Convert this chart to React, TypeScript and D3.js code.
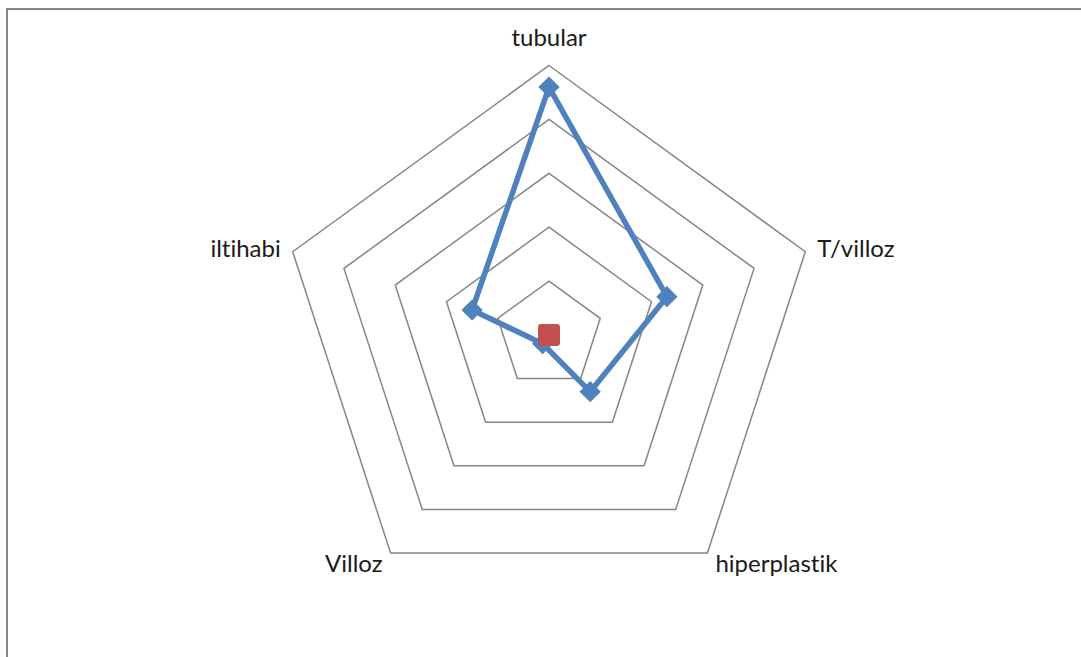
import React from "react";
import * as d3 from "d3";

const categories = ["tubular", "T/villoz", "hiperplastik", "Villoz", "iltihabi"];
const seriesBlue = [46, 23, 13, 2, 15];
const seriesRed = [0, 0, 0, 0, 0];
const gridTicks = [10, 20, 30, 40, 50];

const W = 1081;
const H = 657;
const cx = 549;
const cy = 335;
const R = 269.5;

export default function App() {
  const r = d3.scaleLinear().domain([0, 50]).range([0, R]);
  const n = categories.length;
  const ang = (i: number) => -Math.PI / 2 + (i * 2 * Math.PI) / n;
  const pt = (i: number, v: number): [number, number] => [
    cx + r(v) * Math.cos(ang(i)),
    cy + r(v) * Math.sin(ang(i)),
  ];
  const line = d3.line<[number, number]>().curve(d3.curveLinearClosed);

  const blue = seriesBlue.map((v, i) => pt(i, v));
  const red = seriesRed.map((v, i) => pt(i, v));

  const labelPos = (i: number) => {
    const [x, y] = pt(i, 50);
    const a = ang(i);
    const c = Math.cos(a);
    const s = Math.sin(a);
    if (Math.abs(c) < 0.01) return { x, y: y - 20, anchor: "middle" };
    if (s < 0) return { x: x + (c > 0 ? 12 : -12), y: y + 5, anchor: c > 0 ? "start" : "end" };
    return { x: x + (c > 0 ? 8 : -8), y: y + 19, anchor: c > 0 ? "start" : "end" };
  };

  return (
    <svg width={W} height={H} style={{ position: "absolute", left: 0, top: 0, background: "#fff" }}>
      <rect x={7} y={9} width={1200} height={800} fill="#fff" stroke="#868686" strokeWidth={2} />
      {gridTicks.map((t) => (
        <path
          key={t}
          d={line(categories.map((_, i) => pt(i, t))) || ""}
          fill="none"
          stroke="#868686"
          strokeWidth={1.5}
        />
      ))}
      <path d={line(blue) || ""} fill="none" stroke="#4F81BD" strokeWidth={5.5} strokeLinejoin="round" />
      {blue.map(([x, y], i) => (
        <rect
          key={i}
          x={x - 7}
          y={y - 7}
          width={14}
          height={14}
          fill="#4F81BD"
          stroke="#4F81BD"
          strokeWidth={1}
          transform={`rotate(45 ${x} ${y})`}
        />
      ))}
      <path d={line(red) || ""} fill="none" stroke="#C0504D" strokeWidth={5} />
      {red.map(([x, y], i) => (
        <rect key={i} x={x - 10.5} y={y - 10.5} width={21} height={21} rx={2} fill="#C0504D" />
      ))}
      {categories.map((c, i) => {
        const p = labelPos(i);
        return (
          <text
            key={c}
            x={p.x}
            y={p.y}
            textAnchor={p.anchor as any}
            fontFamily="Lato, 'Open Sans', sans-serif"
            fontSize={24}
            fill="#1a1a1a"
            style={{ fontVariantLigatures: "none" }}
          >
            {c}
          </text>
        );
      })}
    </svg>
  );
}
